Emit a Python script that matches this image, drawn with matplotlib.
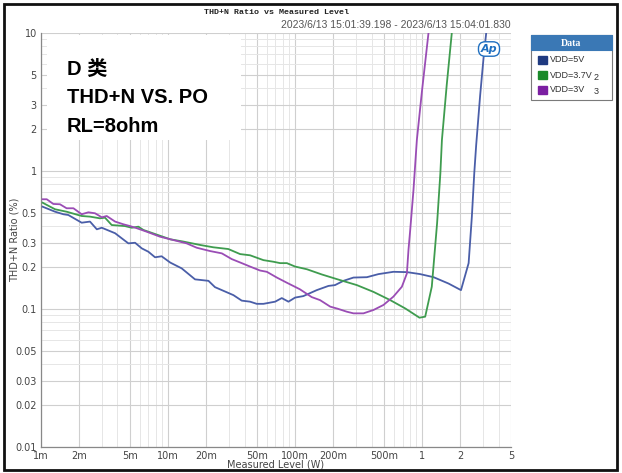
"""THD+N vs output power, class D amp at three supply voltages."""

import matplotlib.pyplot as plt
import matplotlib.patches as mpatches
from matplotlib.ticker import FixedLocator, LogLocator, NullFormatter

# VDD=5V
power_5v = [0.00103, 0.00129, 0.0015, 0.00164, 0.00209, 0.00243, 0.00275, 0.00301,
            0.00383, 0.00487, 0.0055, 0.00621, 0.007, 0.0079, 0.0089, 0.0104, 0.0128,
            0.0163, 0.0208, 0.0234, 0.0327, 0.038, 0.0442, 0.0499, 0.0563, 0.0696,
            0.0785, 0.0886, 0.1, 0.116, 0.148, 0.183, 0.206, 0.24, 0.288, 0.367, 0.453,
            0.594, 0.759, 0.964, 1.23, 1.61, 2.02, 2.32, 2.46, 2.57, 2.66, 2.86, 3.04, 3.19]
thdn_5v = [0.551, 0.507, 0.486, 0.480, 0.422, 0.430, 0.378, 0.388, 0.354, 0.299, 0.302,
           0.275, 0.260, 0.237, 0.241, 0.217, 0.197, 0.164, 0.160, 0.144, 0.126, 0.115,
           0.113, 0.109, 0.109, 0.113, 0.120, 0.113, 0.121, 0.124, 0.137, 0.147, 0.149,
           0.160, 0.169, 0.170, 0.179, 0.186, 0.185, 0.179, 0.170, 0.153, 0.137, 0.215,
           0.467, 0.967, 1.54, 3.55, 6.59, 10]

# VDD=3.7V
power_37v = [0.00103, 0.00129, 0.00159, 0.00209, 0.00243, 0.00291, 0.00319, 0.0036,
             0.00458, 0.00518, 0.00584, 0.00639, 0.0104, 0.0132, 0.0179, 0.0227, 0.0298,
             0.0369, 0.0442, 0.0563, 0.0675, 0.0762, 0.0861, 0.1, 0.124, 0.162, 0.216,
             0.306, 0.414, 0.56, 0.735, 0.952, 1.056, 1.19, 1.31, 1.39, 1.43, 1.56, 1.71]
thdn_37v = [0.589, 0.528, 0.507, 0.472, 0.467, 0.454, 0.459, 0.406, 0.399, 0.388, 0.395,
            0.374, 0.320, 0.308, 0.291, 0.280, 0.272, 0.250, 0.245, 0.226, 0.220, 0.215,
            0.215, 0.203, 0.194, 0.178, 0.164, 0.149, 0.133, 0.116, 0.101, 0.0865, 0.088,
            0.145, 0.418, 0.962, 1.68, 4.2, 10]

# VDD=3V
power_3v = [0.00103, 0.00111, 0.00125, 0.00141, 0.00159, 0.0018, 0.00209, 0.00236,
            0.00266, 0.00301, 0.00329, 0.00383, 0.00445, 0.00502, 0.00567, 0.0068,
            0.00865, 0.011, 0.014, 0.0168, 0.0214, 0.0265, 0.0317, 0.038, 0.0442, 0.053,
            0.0599, 0.0718, 0.0861, 0.109, 0.135, 0.157, 0.189, 0.216, 0.255, 0.288,
            0.345, 0.414, 0.496, 0.594, 0.692, 0.758, 0.78, 0.805, 0.854, 0.908, 0.995, 1.121]
thdn_3v = [0.624, 0.624, 0.577, 0.574, 0.537, 0.537, 0.486, 0.502, 0.494, 0.462, 0.472,
           0.430, 0.411, 0.399, 0.385, 0.363, 0.334, 0.316, 0.299, 0.278, 0.263, 0.253,
           0.230, 0.215, 0.203, 0.190, 0.186, 0.169, 0.155, 0.139, 0.122, 0.116, 0.104,
           0.1005, 0.0956, 0.093, 0.093, 0.0984, 0.107, 0.123, 0.145, 0.181, 0.268,
           0.374, 0.728, 1.68, 3.76, 10]

series_names = ["VDD=5V", "VDD=3.7V", "VDD=3V"]
series_tags = ["", "2", "3"]
x_ticks = [0.001, 0.002, 0.005, 0.01, 0.02, 0.05, 0.1, 0.2, 0.5, 1, 2, 5]
x_labels = ["1m", "2m", "5m", "10m", "20m", "50m", "100m", "200m", "500m", "1", "2", "5"]
y_ticks = [10, 5, 3, 2, 1, 0.5, 0.3, 0.2, 0.1, 0.05, 0.03, 0.02, 0.01]
y_labels = ["10", "5", "3", "2", "1", "0.5", "0.3", "0.2", "0.1", "0.05", "0.03", "0.02", "0.01"]

LINE_COLORS = ["#4a5ea8", "#3f9c4f", "#9a4db5"]
KEY_COLORS = ["#1f3a80", "#1a8a2a", "#7b1fa2"]
TICK_COLOR = "#444444"

W, H = 622, 473
fig = plt.figure(figsize=(W / 100, H / 100), dpi=100)
ax = fig.add_axes([41 / W, 1 - 447 / H, 470 / W, 414 / H])

ax.set_xscale("log")
ax.set_yscale("log")
ax.set_xlim(0.001, 5)
ax.set_ylim(0.01, 10)

for (px, py), col in zip([(power_5v, thdn_5v), (power_37v, thdn_37v), (power_3v, thdn_3v)],
                         LINE_COLORS):
    ax.plot(px, py, color=col, lw=1.3, clip_on=True, zorder=3)

ax.xaxis.set_major_locator(FixedLocator(x_ticks))
ax.set_xticklabels(x_labels)
ax.yaxis.set_major_locator(FixedLocator(y_ticks))
ax.set_yticklabels(y_labels)
ax.xaxis.set_minor_locator(LogLocator(base=10, subs=range(1, 10), numticks=20))
ax.yaxis.set_minor_locator(LogLocator(base=10, subs=range(1, 10), numticks=20))
ax.xaxis.set_minor_formatter(NullFormatter())
ax.yaxis.set_minor_formatter(NullFormatter())
ax.tick_params(which="both", length=0, labelsize=7, colors=TICK_COLOR, pad=3)
ax.grid(which="major", color="#cfcfcf", lw=0.8)
ax.grid(which="minor", color="#e6e6e6", lw=0.7)
ax.set_axisbelow(True)
for side in ["top", "right"]:
    ax.spines[side].set_visible(False)
for side in ["left", "bottom"]:
    ax.spines[side].set_color("#888888")
    ax.spines[side].set_linewidth(0.9)

ax.set_xlabel("Measured Level (W)", fontsize=7, color=TICK_COLOR, labelpad=-1)
fig.text(15 / W, 1 - 240 / H, "THD+N Ratio (%)", fontsize=7, color=TICK_COLOR,
         rotation=90, ha="center", va="center")

# white note box over the upper-left grid
ax.add_patch(mpatches.Rectangle((47 / W, 1 - 140 / H), 194 / W, 105 / H,
                                transform=fig.transFigure, facecolor="white",
                                edgecolor="none", zorder=4))
note_font = ["Liberation Sans", "Noto Sans CJK SC"]
for txt, yb in [("D 类", 75), ("THD+N VS. PO", 103), ("RL=8ohm", 132)]:
    fig.text(67 / W, 1 - yb / H, txt, fontsize=14.5, fontweight="bold",
             family=note_font, va="baseline", ha="left", zorder=5)

# AP logo
fig.text(489 / W, 1 - 49 / H, "Ap", fontsize=8, fontweight="bold", style="italic",
         color="#1f6fc0", ha="center", va="center",
         bbox=dict(boxstyle="round,pad=0.2,rounding_size=0.6", fc="white",
                   ec="#1f6fc0", lw=1))

# titles
fig.text(277 / W, 1 - 12 / H, "THD+N Ratio vs Measured Level", fontsize=6,
         family="Liberation Mono", fontweight="bold", ha="center", va="center",
         color="#222222")
fig.text(511 / W, 1 - 25 / H, "2023/6/13 15:01:39.198 - 2023/6/13 15:04:01.830",
         fontsize=7.5, family="Liberation Sans", ha="right", va="center",
         color="#555555")

# legend panel
fig.patches.append(mpatches.Rectangle((531 / W, 1 - 100 / H), 81 / W, 65 / H,
                                      transform=fig.transFigure, fc="white",
                                      ec="#7a7a7a", lw=0.8))
fig.patches.append(mpatches.Rectangle((531 / W, 1 - 50 / H), 81 / W, 15 / H,
                                      transform=fig.transFigure, fc="#3a78b5",
                                      ec="#3a78b5", lw=0.8))
fig.text(571 / W, 1 - 43 / H, "Data", fontsize=7, fontweight="bold", color="white",
         family="Liberation Serif", ha="center", va="center")
for i, (name, tag, col) in enumerate(zip(series_names, series_tags, KEY_COLORS)):
    yc = 60 + i * 15
    fig.patches.append(mpatches.Rectangle((538 / W, 1 - (yc + 4) / H), 9 / W, 8 / H,
                                          transform=fig.transFigure, fc=col, ec=col))
    fig.text(550 / W, 1 - yc / H, name, fontsize=6.5, family="Liberation Sans",
             color="#333333", ha="left", va="center")
    if tag:
        fig.text(594 / W, 1 - (yc + 2) / H, tag, fontsize=6.5, family="Liberation Sans",
                 color="#333333", ha="left", va="center")

# outer frame
fig.patches.append(mpatches.Rectangle((4 / W, 3 / H), 613 / W, 466 / H,
                                      transform=fig.transFigure, fc="none",
                                      ec="#111111", lw=2))

fig.savefig("out.png", dpi=100)
